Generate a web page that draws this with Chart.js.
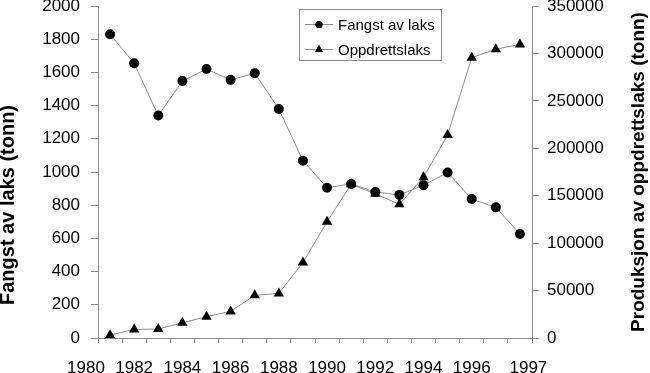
<!DOCTYPE html>
<html lang="no">
<head>
    <meta charset="UTF-8" />
    <title>Fangst av laks og produksjon av oppdrettslaks</title>
    <script src="https://cdn.jsdelivr.net/npm/chart.js"></script>
    <style>
        body { margin: 0; background: #fff; }
        .wrap { position: relative; width: 650px; height: 373px; }
        canvas { display: block; }
        #legend {
            position: absolute;
            left: 299px;
            top: 9px;
            width: 141px;
            height: 50px;
            border: 1px solid #8a8a8a;
            background: #fff;
            font: 15px 'Liberation Sans', Arial, sans-serif;
            color: #000;
        }
        #legend .row {
            position: absolute;
            left: 5px;
            height: 16px;
            display: flex;
            align-items: center;
            white-space: nowrap;
        }
        #legend .row canvas { margin-right: 5px; }
    </style>
</head>
<body>
    <div class="wrap">
        <canvas id="chart" width="650" height="373"></canvas>
        <div id="legend"></div>
    </div>

    <script>
        // one point per year
        const years = [1981, 1982, 1983, 1984, 1985, 1986, 1987, 1988, 1989,
                       1990, 1991, 1992, 1993, 1994, 1995, 1996, 1997, 1998];
        const fangst = [1830, 1655, 1340, 1548, 1620, 1555, 1595, 1380, 1068,
                        905, 928, 880, 862, 920, 997, 837, 787, 627];
        const oppdrett = [3000, 9000, 9500, 16000, 22500, 28000, 45000, 47000, 79500,
                          122500, 162000, 152000, 141000, 169500, 214000, 295500, 304500, 309500];
        const xTickLabels = ['1980', '1982', '1984', '1986', '1988', '1990', '1992', '1994', '1996', '1997'];
        const seriesNames = ['Fangst av laks', 'Oppdrettslaks'];
        const leftTitle = 'Fangst av laks (tonn)';
        const rightTitle = 'Produksjon av oppdrettslaks (tonn)';

        const grey = '#8a8a8a';
        const lineGrey = '#8c8c8c';
        const fontFamily = "'Liberation Sans', Arial, sans-serif";
        const tickFont = { family: fontFamily, size: 17 };
        const plain = v => String(v);

        // the right title reads bottom-to-top, so both titles are drawn here
        const axisTitles = {
            id: 'axisTitles',
            afterDraw(chart) {
                const ctx = chart.ctx;
                const area = chart.chartArea;
                const draw = (text, x, y, size) => {
                    ctx.save();
                    ctx.translate(x, y);
                    ctx.rotate(-Math.PI / 2);
                    ctx.font = 'bold ' + size + 'px ' + fontFamily;
                    ctx.fillStyle = '#000';
                    ctx.textAlign = 'center';
                    ctx.textBaseline = 'middle';
                    ctx.fillText(text, 0, 0);
                    ctx.restore();
                };
                draw(leftTitle, chart.scales.y.left + 8, area.bottom - 133, 20);
                draw(rightTitle, chart.scales.y1.right - 11, (area.top + area.bottom) / 2, 19);
            }
        };

        const ctx = document.getElementById('chart').getContext('2d');
        const chart = new Chart(ctx, {
            type: 'line',
            data: {
                datasets: [
                    {
                        label: seriesNames[0],
                        data: years.map((yr, i) => ({ x: yr, y: fangst[i] })),
                        yAxisID: 'y',
                        borderColor: lineGrey,
                        borderWidth: 1,
                        pointStyle: 'circle',
                        pointRadius: 5,
                        pointBackgroundColor: '#000',
                        pointBorderColor: '#000',
                        pointBorderWidth: 0,
                        tension: 0
                    },
                    {
                        label: seriesNames[1],
                        data: years.map((yr, i) => ({ x: yr, y: oppdrett[i] })),
                        yAxisID: 'y1',
                        borderColor: lineGrey,
                        borderWidth: 1,
                        pointStyle: 'triangle',
                        pointRadius: 6,
                        pointBackgroundColor: '#000',
                        pointBorderColor: '#000',
                        pointBorderWidth: 0,
                        tension: 0
                    }
                ]
            },
            options: {
                responsive: false,
                animation: false,
                devicePixelRatio: 1,
                layout: { padding: { top: 6, left: 0, right: 0, bottom: 0 } },
                plugins: { legend: { display: false }, tooltip: { enabled: false } },
                scales: {
                    x: {
                        type: 'linear',
                        position: 'bottom',
                        min: 1980.5,
                        max: 1998.5,
                        afterBuildTicks: s => {
                            s.ticks = [];
                            for (let v = s.min; v <= s.max + 0.01; v++) s.ticks.push({ value: v });
                        },
                        ticks: { display: false },
                        grid: { drawOnChartArea: false, tickLength: 5, color: grey },
                        border: { color: grey },
                        afterFit: s => { s.height = 5; s.paddingLeft = 0; s.paddingRight = 0; }
                    },
                    xl: {
                        type: 'linear',
                        position: 'bottom',
                        min: 1980.5,
                        max: 1998.5,
                        afterBuildTicks: s => {
                            // the last label sits at the end of the axis in the original
                            s.ticks = xTickLabels.map((t, i) => ({
                                value: i === xTickLabels.length - 1 ? s.max - 0.15 : Number(t)
                            }));
                        },
                        grid: { display: false },
                        border: { display: false },
                        ticks: {
                            font: tickFont,
                            color: '#000',
                            padding: 7,
                            maxRotation: 0,
                            autoSkip: false,
                            callback: (v, i) => xTickLabels[i]
                        },
                        afterFit: s => { s.height = 30; s.paddingLeft = 0; s.paddingRight = 0; }
                    },
                    y: {
                        position: 'left',
                        min: 0,
                        max: 2000,
                        ticks: { stepSize: 200, font: tickFont, color: '#000', padding: 11, callback: plain },
                        grid: { drawOnChartArea: false, tickLength: 7, color: grey },
                        border: { color: grey },
                        afterFit: s => { s.width = 98; s.paddingTop = 0; s.paddingBottom = 0; }
                    },
                    y1: {
                        position: 'right',
                        min: 0,
                        max: 350000,
                        ticks: { stepSize: 50000, font: tickFont, color: '#000', padding: 8, callback: plain },
                        grid: { drawOnChartArea: false, tickLength: 7, color: grey },
                        border: { color: grey },
                        afterFit: s => { s.width = 118; s.paddingTop = 0; s.paddingBottom = 0; }
                    }
                }
            },
            plugins: [axisTitles]
        });

        // legend box with a line + marker sample, like the original
        const legend = document.getElementById('legend');
        chart.data.datasets.forEach((ds, i) => {
            const row = document.createElement('div');
            row.className = 'row';
            row.style.top = (i === 0 ? 6 : 31) + 'px';
            const sample = document.createElement('canvas');
            sample.width = 28;
            sample.height = 16;
            const c = sample.getContext('2d');
            c.strokeStyle = ds.borderColor;
            c.lineWidth = 1;
            c.beginPath();
            c.moveTo(0, 8.5);
            c.lineTo(28, 8.5);
            c.stroke();
            Chart.helpers.drawPoint(c, { pointStyle: ds.pointStyle, radius: ds.pointRadius - 1.5, borderWidth: 0 }, 14, 8.5);
            c.fillStyle = '#000';
            c.fill();
            row.appendChild(sample);
            row.appendChild(document.createTextNode(ds.label));
            legend.appendChild(row);
        });
    </script>
</body>
</html>
